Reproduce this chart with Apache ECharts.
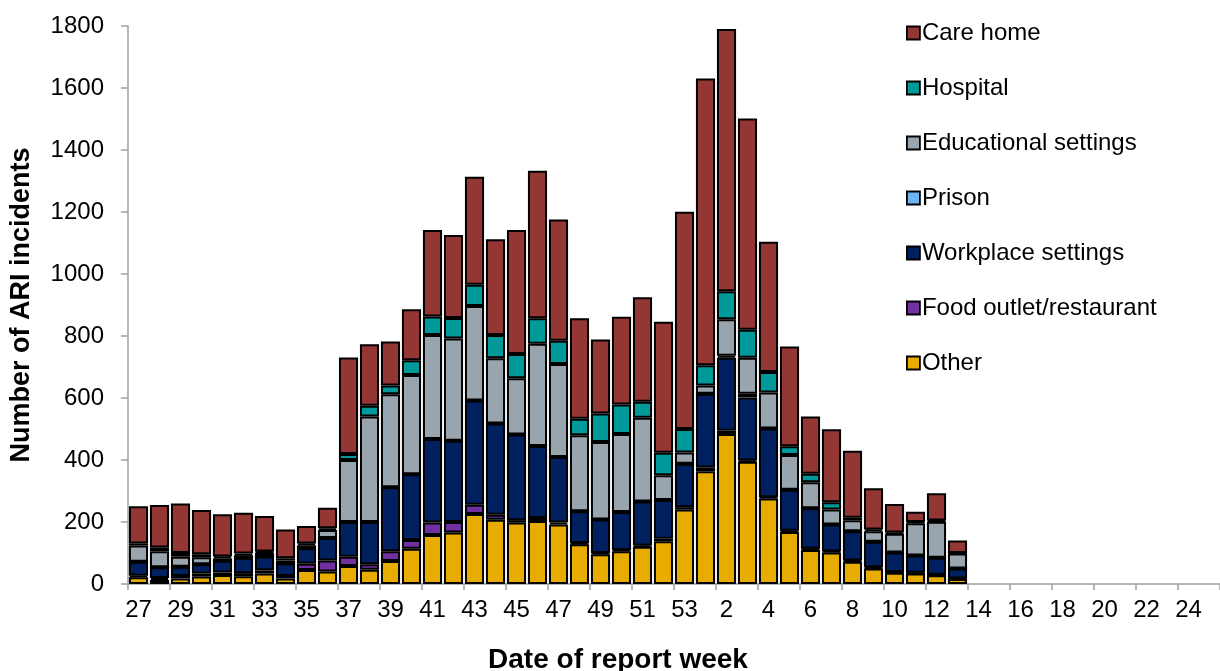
<!DOCTYPE html>
<html>
<head>
<meta charset="utf-8">
<script src="https://cdn.jsdelivr.net/npm/echarts@6/dist/echarts.min.js"></script>
<style>
html,body{margin:0;padding:0;background:#fff;}
#c{width:1220px;height:671px;}
</style>
</head>
<body>
<div id="c"></div>
<script>
const weeks = ['27','28','29','30','31','32','33','34','35','36','37','38','39','40','41','42','43','44','45','46','47','48','49','50','51','52','53',
  '1','2','3','4','5','6','7','8','9','10','11','12','13','14','15','16','17','18','19','20','21','22','23','24','25'];
const other     = [22,13,18,24,29,25,34,18,45,40,58,46,74,114,158,166,226,207,198,203,192,128,96,106,120,138,240,364,484,394,276,168,110,102,72,50,36,34,28,16];
const food      = [5,6,8,10,8,10,10,8,20,36,30,18,32,28,40,34,30,16,8,10,6,4,4,4,4,8,8,12,10,4,4,4,4,4,4,4,2,2,2,2];
const workplace = [45,35,30,30,38,50,45,40,50,72,112,136,206,212,270,262,336,295,276,232,212,103,108,122,142,125,140,238,236,204,222,132,130,86,94,82,64,56,55,32];
const prison    = [0,0,0,0,0,0,0,0,0,0,0,0,0,0,0,0,0,0,0,0,0,0,0,0,0,0,0,0,6,12,0,0,0,0,0,0,0,0,0,0];
const education = [52,52,32,22,8,8,12,10,10,26,200,340,300,320,335,330,305,210,182,330,300,245,250,252,270,80,36,26,118,116,116,112,84,48,36,34,60,104,116,48];
const hospital  = [7,12,12,10,6,5,4,7,6,6,19,35,28,48,60,66,68,75,78,82,75,53,92,95,52,72,76,66,90,90,66,28,28,24,8,6,4,4,4,2];
const careHome  = [120,137,160,143,136,132,114,93,56,66,312,198,142,164,279,268,349,309,400,476,391,324,239,283,337,423,701,925,846,682,420,322,184,235,216,133,92,33,88,40];

const FONT = 'Liberation Sans, Arial, sans-serif';
const seriesDefs = [
  {name:'Other', data: other, color:'#E8AB00'},
  {name:'Food outlet/restaurant', data: food, color:'#7030A0'},
  {name:'Workplace settings', data: workplace, color:'#002060'},
  {name:'Prison', data: prison, color:'#6CB4F2'},
  {name:'Educational settings', data: education, color:'#98A4AE'},
  {name:'Hospital', data: hospital, color:'#009999'},
  {name:'Care home', data: careHome, color:'#943634'}
];

const chart = echarts.init(document.getElementById('c'), null, {renderer:'canvas'});
chart.setOption({
  animation:false,
  backgroundColor:'#ffffff',
  textStyle:{fontFamily:FONT},
  grid:{left:128, top:26, bottom:87, width:1101, containLabel:false},
  legend:{
    orient:'vertical', left:901, top:16,
    data:['Care home','Hospital','Educational settings','Prison','Workplace settings','Food outlet/restaurant','Other'],
    itemWidth:13, itemHeight:13, itemGap:31, icon:'rect',
    textStyle:{fontSize:24, color:'#000', fontFamily:FONT, lineHeight:24, padding:[0,0,0,-3]},
    itemStyle:{borderColor:'#000', borderWidth:1.8}
  },
  xAxis:{
    type:'category', data:weeks,
    axisLine:{lineStyle:{color:'#A0A0A0', width:1.5}},
    axisTick:{show:true, interval:1, length:6, lineStyle:{color:'#A0A0A0', width:1.5}},
    axisLabel:{interval:1, fontSize:24, color:'#000', margin:14, fontFamily:FONT},
    splitLine:{show:false}
  },
  yAxis:{
    type:'value', min:0, max:1800, interval:200,
    axisLine:{show:true, lineStyle:{color:'#A0A0A0', width:1.5}},
    axisTick:{show:true, length:7, lineStyle:{color:'#A0A0A0', width:1.5}},
    axisLabel:{fontSize:24, color:'#000', margin:24, fontFamily:FONT, formatter:function(v){return String(v);}},
    splitLine:{show:false}
  },
  graphic:[
    {type:'text', x:618, y:660, style:{text:'Date of report week', font:'bold 28px '+FONT, fill:'#000', align:'center', verticalAlign:'middle', textAlign:'center', textVerticalAlign:'middle'}},
    {type:'text', x:22, y:305, rotation:Math.PI/2, style:{text:'Number of ARI incidents', font:'bold 27px '+FONT, fill:'#000', align:'center', verticalAlign:'middle', textAlign:'center', textVerticalAlign:'middle'}}
  ],
  series: seriesDefs.map(s => ({
    name:s.name, type:'bar', stack:'total', data:s.data,
    barCategoryGap:'9%',
    itemStyle:{color:s.color, borderColor:'#000', borderWidth:2},
    emphasis:{disabled:true}
  }))
});
</script>
</body>
</html>
